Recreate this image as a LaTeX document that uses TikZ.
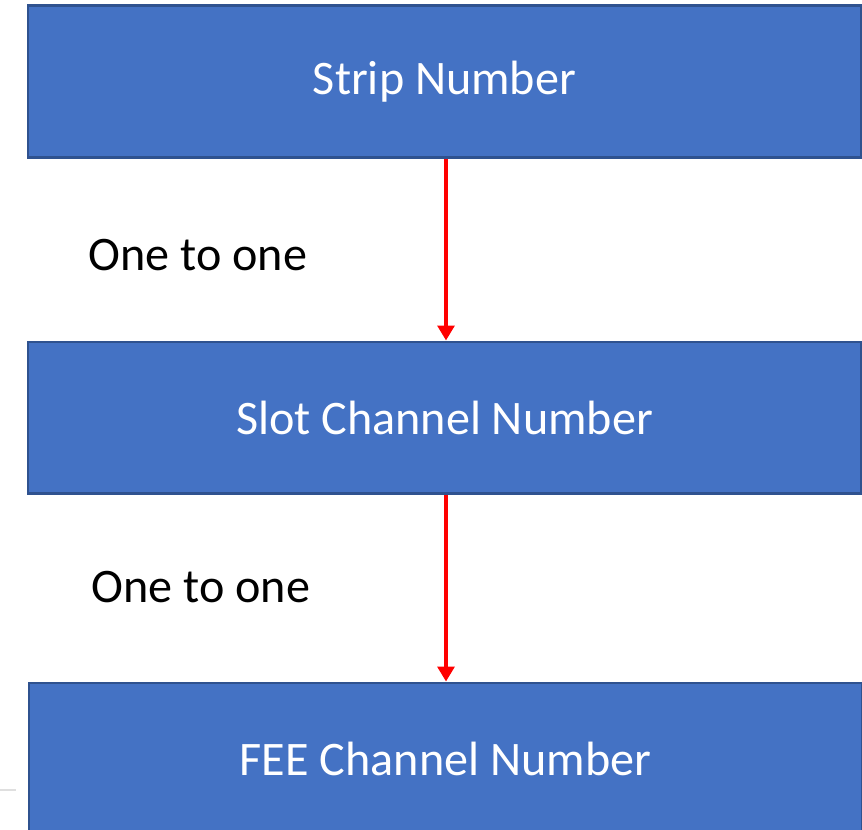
\documentclass[tikz,border=0pt]{standalone}
\usepackage{fontspec}
\setmainfont{Carlito}
\usetikzlibrary{arrows.meta,positioning}
\definecolor{boxfill}{HTML}{4472C4}
\definecolor{boxline}{HTML}{2F528F}
\tikzset{
  mybox/.style = {rectangle, draw=boxline, fill=boxfill, line width=1.2pt, minimum height=3.04cm, minimum width=16.66cm, align=center, text=white, font=\fontsize{27.4}{32}\selectfont},
  myarrow/.style = {-{Triangle[length=8.5pt, width=9.5pt]}, draw=red, line width=2.6pt},
  mylabel/.style = {align=left, font=\fontsize{27.4}{32}\selectfont},
}
\begin{document}
\begin{tikzpicture}[x=0.02cm, y=-0.02cm, node distance=3.64cm]
\useasboundingbox (0,0) rectangle (862,829);
\clip (0,0) rectangle (862,829);
\fill[white] (0,0) rectangle (862,829);

\node (strip) [mybox] at (444.5,81.5) {Strip Number};
\node (slot) [mybox, below=of strip] {Slot Channel Number};
\node (fee) [mybox, below=3.74cm of slot, xshift=0.02cm] {FEE Channel Number};

\draw[myarrow] (strip.south -| 446,0) -- (slot.north -| 446,0);
\draw[myarrow] (slot.south -| 446,0) -- (fee.north -| 446,0);

\node (lab1) [mylabel] at (198,255) {One to one};
\node (lab2) [mylabel] at (201,587) {One to one};

% faint mark at the lower left
\draw[gray!25, line width=1pt] (0,790) -- (16,790);
\end{tikzpicture}
\end{document}
